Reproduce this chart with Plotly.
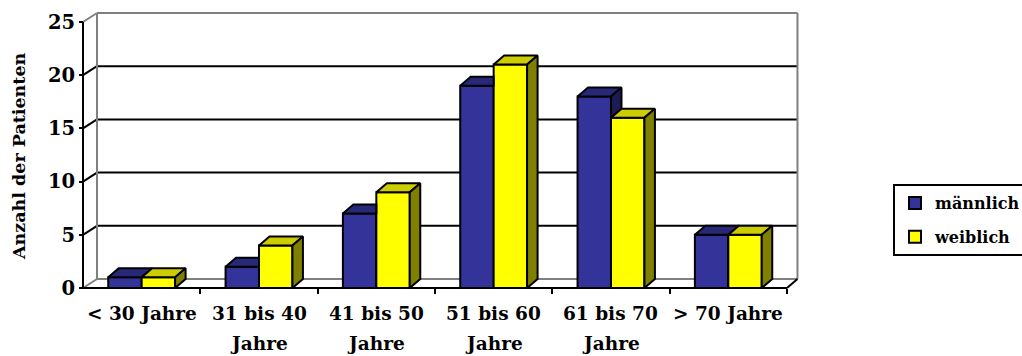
import plotly.graph_objects as go

# ---- data -------------------------------------------------------------
label_line1 = ["< 30 Jahre", "31 bis 40", "41 bis 50", "51 bis 60", "61 bis 70", "> 70 Jahre"]
label_line2 = ["", "Jahre", "Jahre", "Jahre", "Jahre", ""]
maennlich = [1, 2, 7, 19, 18, 5]
weiblich = [1, 4, 9, 21, 16, 5]
y_ticks = [0, 5, 10, 15, 20, 25]
series_names = ["männlich", "weiblich"]

# ---- styling / geometry ----------------------------------------------
W, H = 1022, 356
FONT = "DejaVu Serif"
BLUE, BLUE_TOP, BLUE_SIDE = "#333399", "#282878", "#1c1c55"
YEL, YEL_TOP, YEL_SIDE = "#FFFF00", "#CCCC00", "#808000"
WALL_GREY = "#808080"

PX_CAT = 117.33       # pixels per category on the front plane
PX_UNIT = 10.64       # pixels per patient on the front plane
ORIGIN_X, ORIGIN_Y = 83, 288
PLOT_L, PLOT_R, PLOT_T, PLOT_B = 79, 804, 11, 292

x_min = (PLOT_L - ORIGIN_X) / PX_CAT
x_max = (PLOT_R - ORIGIN_X) / PX_CAT
y_min = -(PLOT_B - ORIGIN_Y) / PX_UNIT
y_max = (ORIGIN_Y - PLOT_T) / PX_UNIT

WALL_DX_L = 14 / PX_CAT     # depth shift of the wall at the left end
WALL_DX_R = 10.5 / PX_CAT   # depth shift of the wall at the right end
DEPTH_DY = 9 / PX_UNIT
BAR_DX = 10.5 / PX_CAT
BAR_W = 0.285

n = len(label_line1)
centers = [i + 0.5 for i in range(n)]
y_top = y_ticks[-1]


def face(xs, ys, fill):
    return go.Scatter(
        x=xs + [xs[0]], y=ys + [ys[0]], mode="lines", fill="toself",
        fillcolor=fill, line=dict(color="black", width=2),
        hoverinfo="skip", showlegend=False,
    )


fig = go.Figure()

# front faces of the bars
fig.add_trace(go.Bar(
    x=centers, y=maennlich, width=BAR_W, offset=-BAR_W, name=series_names[0],
    marker=dict(color=BLUE, line=dict(color="black", width=2)),
    legendgroup="m",
))
fig.add_trace(go.Bar(
    x=centers, y=weiblich, width=BAR_W, offset=0, name=series_names[1],
    marker=dict(color=YEL, line=dict(color="black", width=2)),
    legendgroup="w",
))

# 3D tops and sides (painted back to front)
for c, vb, vy in zip(centers, maennlich, weiblich):
    x0, x1, x2 = c - BAR_W, c, c + BAR_W
    dx, dy = BAR_DX, DEPTH_DY
    # blue top, minus whatever the yellow bar in front hides
    if vy <= vb:
        fig.add_trace(face([x0, x1, x1 + dx, x0 + dx], [vb, vb, vb + dy, vb + dy], BLUE_TOP))
    elif vy >= vb + dy:
        fig.add_trace(face([x0, x1, x1, x0 + dx], [vb, vb, vb + dy, vb + dy], BLUE_TOP))
    else:
        xc = x1 + (vy - vb) / dy * dx
        fig.add_trace(face([x0, x1, x1, xc, x1 + dx, x0 + dx],
                           [vb, vb, vy, vy, vb + dy, vb + dy], BLUE_TOP))
    # blue side only where it rises above the yellow bar
    if vb > vy:
        fig.add_trace(face([x1, x1, x1 + dx, x1 + dx], [vy, vb, vb + dy, vy + dy], BLUE_SIDE))
    # yellow top and side
    fig.add_trace(face([x1, x2, x2 + dx, x1 + dx], [vy, vy, vy + dy, vy + dy], YEL_TOP))
    fig.add_trace(face([x2, x2, x2 + dx, x2 + dx], [0, vy, vy + dy, dy], YEL_SIDE))

# ---- walls, floor and gridlines --------------------------------------
shapes = []


def seg(xa, ya, xb, yb, color, width=2):
    shapes.append(dict(type="line", xref="x", yref="y", x0=xa, y0=ya, x1=xb, y1=yb,
                       line=dict(color=color, width=width), layer="below"))


x_end = float(n)
for v in y_ticks:
    col = "black" if 0 < v < y_top else WALL_GREY
    seg(0, v, WALL_DX_L, v + DEPTH_DY, col)                            # left wall
    seg(WALL_DX_L, v + DEPTH_DY, x_end + WALL_DX_R, v + DEPTH_DY, col)  # back wall
seg(WALL_DX_L, DEPTH_DY, WALL_DX_L, y_top + DEPTH_DY, WALL_GREY)
seg(x_end + WALL_DX_R, DEPTH_DY, x_end + WALL_DX_R, y_top + DEPTH_DY, WALL_GREY)
seg(x_end, 0, x_end + WALL_DX_R, DEPTH_DY, "black")                   # floor right edge
seg(0, 0, x_end, 0, "black")                                          # floor front edge
seg(0, 0, 0, y_top, "black")                                          # value axis

# ---- category labels ---------------------------------------------------
annotations = []
lab_font = dict(family=FONT, size=18.5, color="black", weight="bold")
for c, l1, l2 in zip(centers, label_line1, label_line2):
    annotations.append(dict(x=c, y=0, xref="x", yref="y", text=l1, showarrow=False,
                            yanchor="middle", yshift=-25, font=lab_font))
    if l2:
        annotations.append(dict(x=c, y=0, xref="x", yref="y", text=l2, showarrow=False,
                                yanchor="middle", yshift=-55, font=lab_font))

plot_w = PLOT_R - PLOT_L
plot_h = PLOT_B - PLOT_T
annotations.append(dict(
    x=(19 - PLOT_L) / plot_w, y=(PLOT_B - 156) / plot_h, xref="paper", yref="paper",
    text="Anzahl der Patienten", textangle=-90, showarrow=False,
    xanchor="center", yanchor="middle",
    font=dict(family=FONT, size=17.5, color="black", weight="bold"),
))

fig.update_layout(
    width=W, height=H,
    margin=dict(l=PLOT_L, r=W - PLOT_R, t=PLOT_T, b=H - PLOT_B, autoexpand=False),
    paper_bgcolor="white", plot_bgcolor="white",
    barmode="overlay",
    showlegend=True,
    shapes=shapes,
    annotations=annotations,
    xaxis=dict(
        range=[x_min, x_max], showgrid=False, zeroline=False, showline=False,
        tickvals=list(range(1, n + 1)), showticklabels=False,
        ticks="outside", ticklen=5, tickwidth=2, tickcolor="black",
        anchor="free", position=(0 - y_min) / (y_max - y_min),
        fixedrange=True,
    ),
    yaxis=dict(
        range=[y_min, y_max], showgrid=False, zeroline=False, showline=False,
        tickvals=y_ticks, ticks="outside", ticklen=4, tickwidth=2, tickcolor="black",
        tickfont=dict(family=FONT, size=19.5, color="black", weight="bold"),
        anchor="free", position=(0 - x_min) / (x_max - x_min),
        fixedrange=True,
    ),
    legend=dict(
        x=(893 - PLOT_L) / plot_w, y=(PLOT_B - 184) / plot_h,
        xanchor="left", yanchor="top",
        bordercolor="black", borderwidth=2, bgcolor="white",
        font=dict(family=FONT, size=16, color="black", weight="bold"),
        tracegroupgap=10,
    ),
)

fig.write_html("out.html")
